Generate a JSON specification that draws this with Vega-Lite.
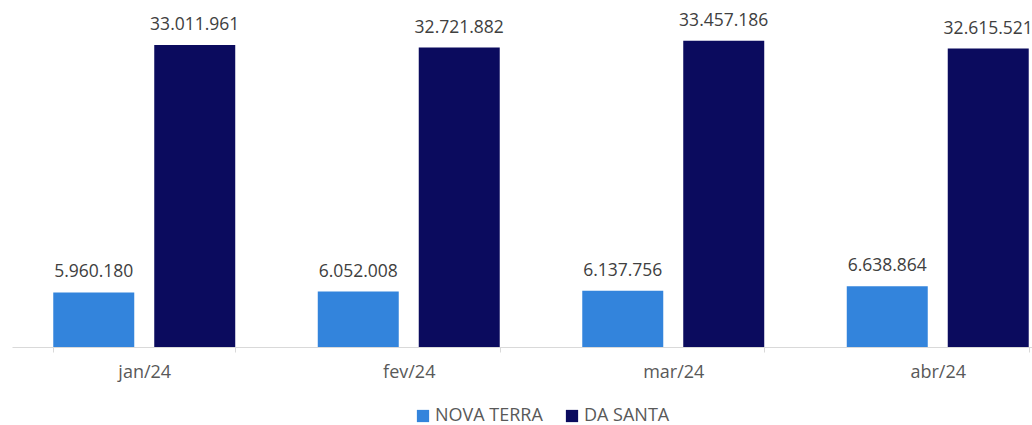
{
  "$schema": "https://vega.github.io/schema/vega-lite/v6.json",
  "autosize": {"type": "none"},
  "width": 1032,
  "height": 330,
  "padding": {"left": 0, "top": 17, "right": 0, "bottom": 78},
  "background": "white",
  "config": {
    "view": {"stroke": null},
    "font": "Open Sans",
    "locale": {"number": {"decimal": ",", "thousands": ".", "grouping": [3], "currency": ["R$", ""]}}
  },
  "data": {
    "values": [
      {"mes": "jan/24", "serie": "NOVA TERRA", "valor": 5960180},
      {"mes": "jan/24", "serie": "DA SANTA", "valor": 33011961},
      {"mes": "fev/24", "serie": "NOVA TERRA", "valor": 6052008},
      {"mes": "fev/24", "serie": "DA SANTA", "valor": 32721882},
      {"mes": "mar/24", "serie": "NOVA TERRA", "valor": 6137756},
      {"mes": "mar/24", "serie": "DA SANTA", "valor": 33457186},
      {"mes": "abr/24", "serie": "NOVA TERRA", "valor": 6638864},
      {"mes": "abr/24", "serie": "DA SANTA", "valor": 32615521}
    ]
  },
  "encoding": {
    "x": {
      "field": "mes", "type": "nominal", "sort": null, "title": null,
      "scale": {"range": [12, 1070], "paddingInner": 0.312, "paddingOuter": 0.156},
      "axis": {
        "domainColor": "#d9d9d9", "domainWidth": 1,
        "tickBand": "extent", "tickColor": "#d9d9d9", "tickSize": 5,
        "labelAngle": 0, "labelFontSize": 18, "labelColor": "#595959",
        "labelPadding": 11, "labelFont": "Open Sans"
      }
    },
    "xOffset": {
      "field": "serie", "type": "nominal", "sort": ["NOVA TERRA", "DA SANTA"],
      "scale": {"paddingInner": 0.198, "paddingOuter": 0}
    },
    "y": {
      "field": "valor", "type": "quantitative",
      "scale": {"domain": [0, 36066000], "nice": false},
      "axis": null
    }
  },
  "layer": [
    {
      "mark": {"type": "bar", "clip": false},
      "encoding": {
        "color": {
          "field": "serie", "type": "nominal", "sort": ["NOVA TERRA", "DA SANTA"],
          "scale": {"domain": ["NOVA TERRA", "DA SANTA"], "range": ["#3384dc", "#0b0b5e"]},
          "legend": {
            "title": null, "orient": "none", "direction": "horizontal",
            "legendX": 414, "legendY": 390,
            "symbolType": "square", "symbolSize": 150, "symbolStrokeWidth": 0,
            "labelFontSize": 18, "labelColor": "#595959", "labelFont": "Open Sans",
            "labelOffset": 3, "columnPadding": 20
          }
        }
      }
    },
    {
      "mark": {"type": "text", "baseline": "alphabetic", "dy": -15, "fontSize": 17.5, "color": "#404040", "clip": false},
      "encoding": {
        "text": {"field": "valor", "type": "quantitative", "format": ",d"}
      }
    }
  ]
}
